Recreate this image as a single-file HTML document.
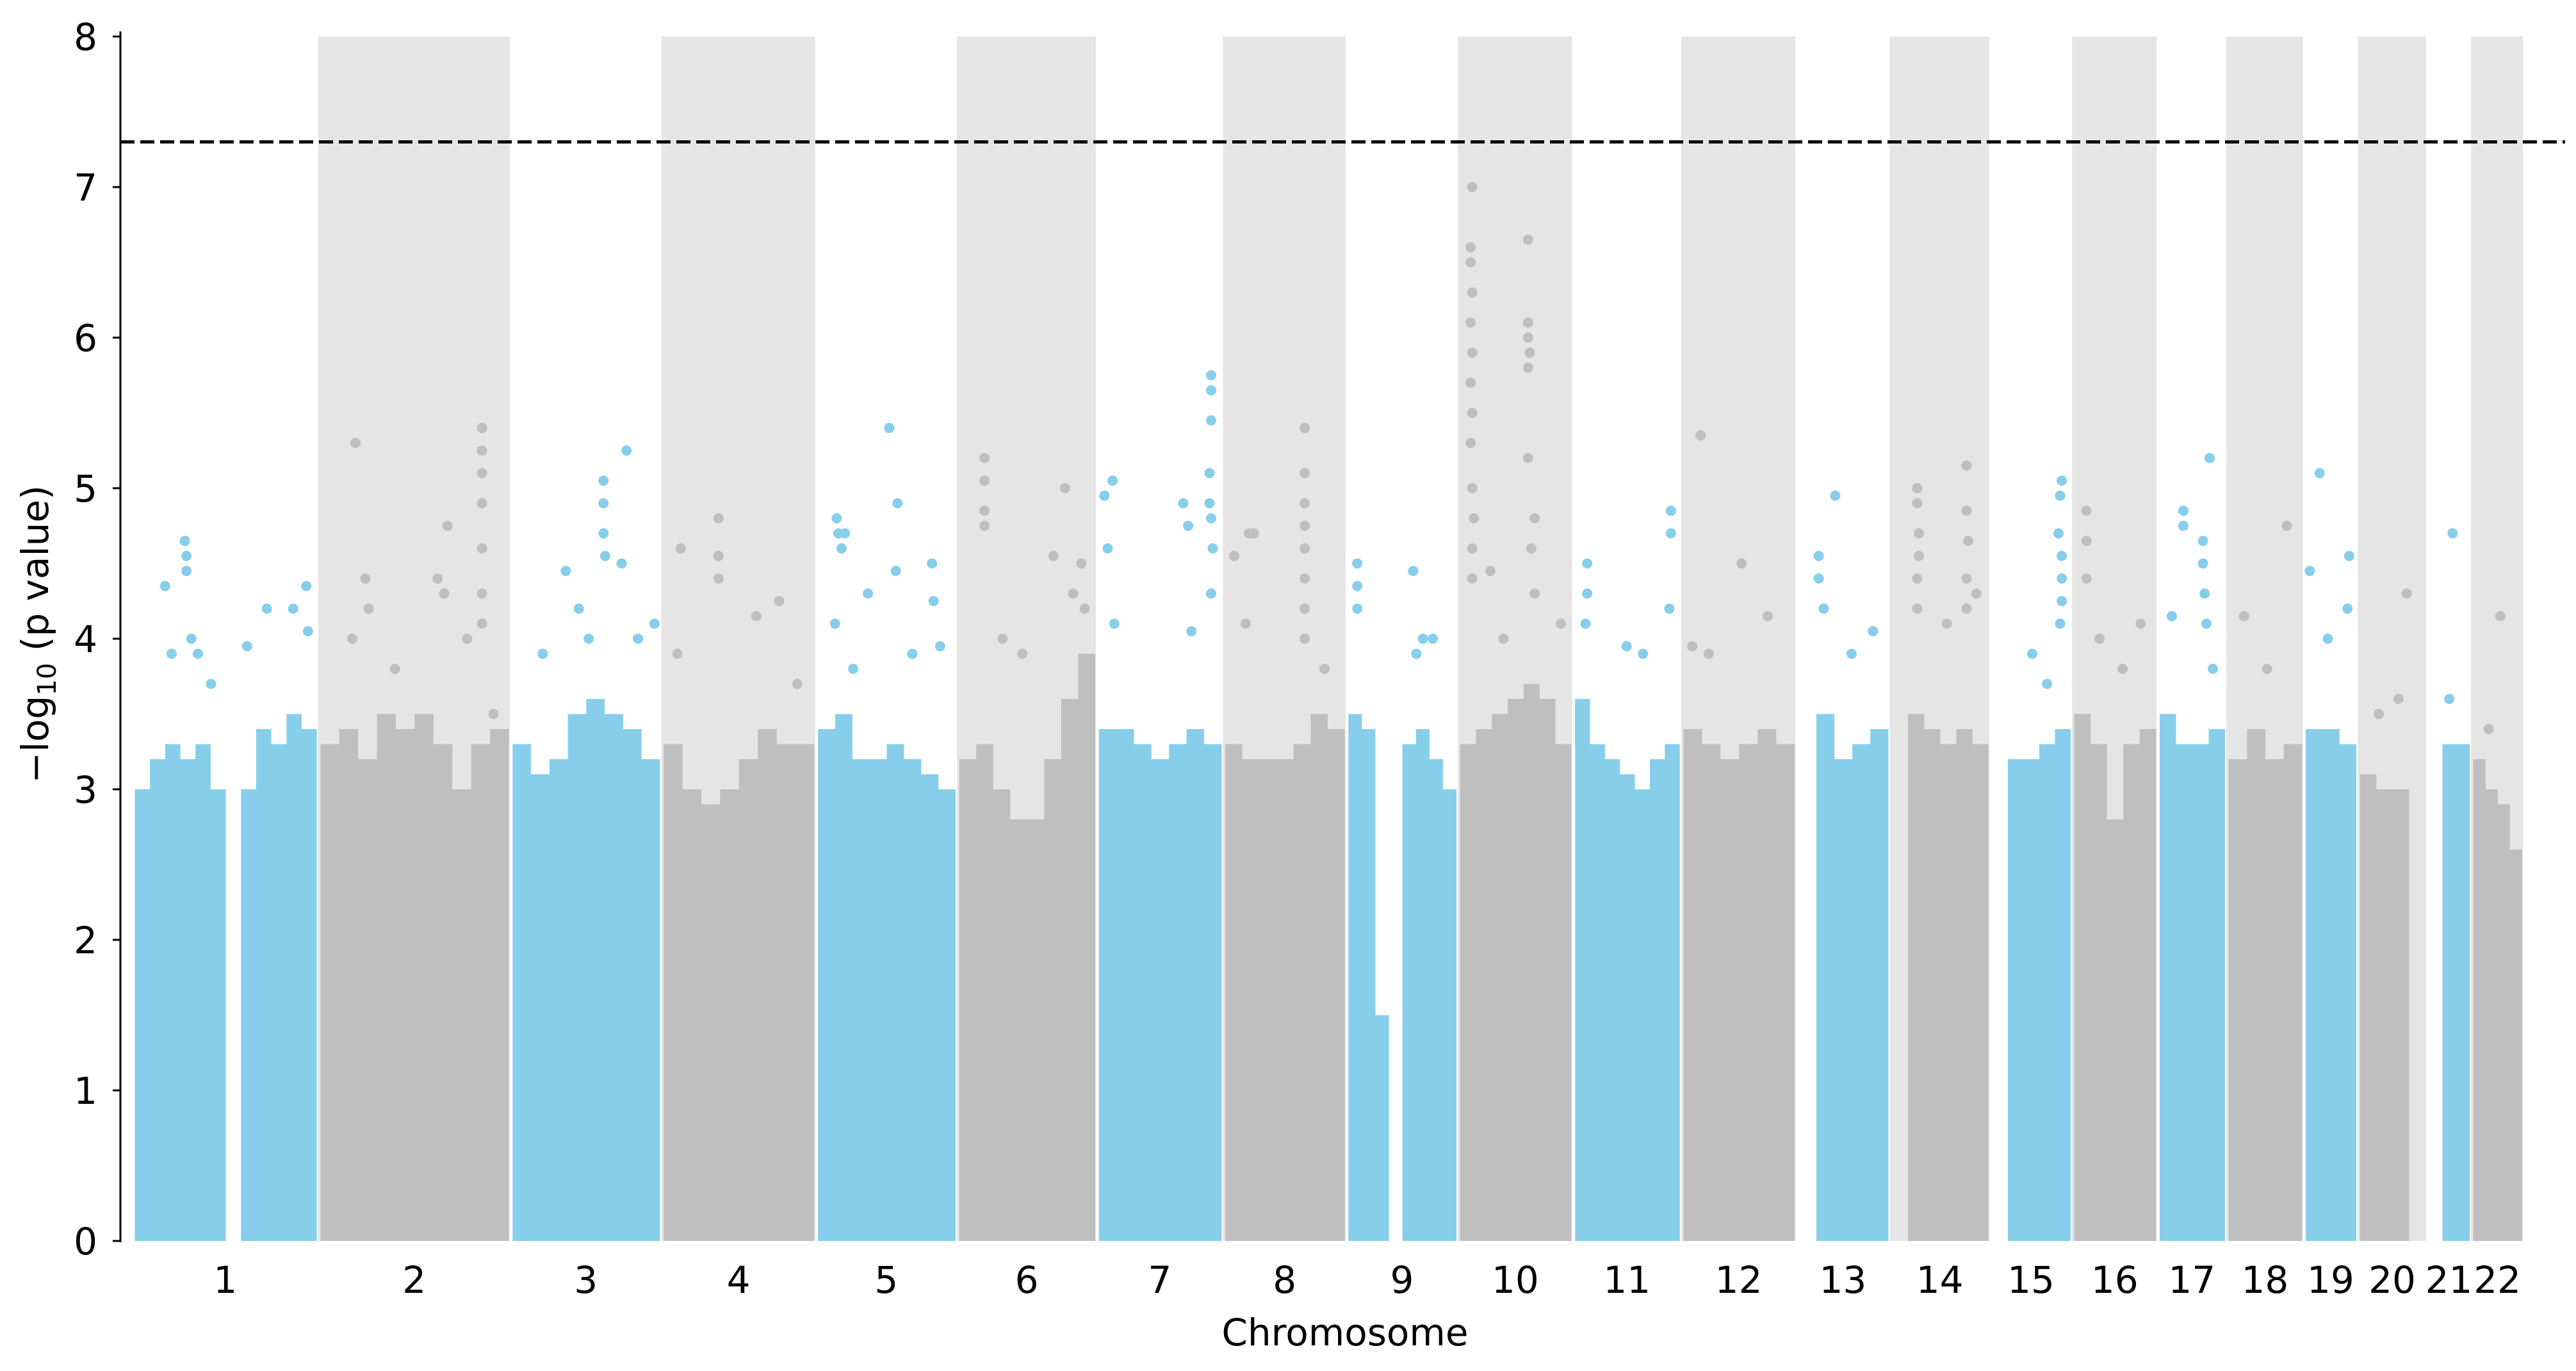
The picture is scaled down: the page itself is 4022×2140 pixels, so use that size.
<!DOCTYPE html>
<html><head><meta charset="utf-8">
<style>
html,body{margin:0;padding:0;background:#fff;}
svg{display:block;font-family:"DejaVu Sans","Liberation Sans",sans-serif;}
</style></head>
<body>
<svg id="chart" width="4022" height="2140" viewBox="0 0 4022 2140" xmlns="http://www.w3.org/2000/svg">
<g id="bands"></g>
<g id="marks"></g>
<g id="axes"></g>
</svg>
<script>
const chromosomes = ["1","2","3","4","5","6","7","8","9","10","11","12","13","14","15","16","17","18","19","20","21","22"];
const chrLen = [113,117,92,94,86,85,77,75,68,70,66,70,57,61,50,52,42,47,33,42,27,32];
const envelope = [
 [3.0,3.2,3.3,3.2,3.3,3.0,0,3.0,3.4,3.3,3.5,3.4],
 [3.3,3.4,3.2,3.5,3.4,3.5,3.3,3.0,3.3,3.4],
 [3.3,3.1,3.2,3.5,3.6,3.5,3.4,3.2],
 [3.3,3.0,2.9,3.0,3.2,3.4,3.3,3.3],
 [3.4,3.5,3.2,3.2,3.3,3.2,3.1,3.0],
 [3.2,3.3,3.0,2.8,2.8,3.2,3.6,3.9],
 [3.4,3.4,3.3,3.2,3.3,3.4,3.3],
 [3.3,3.2,3.2,3.2,3.3,3.5,3.4],
 [3.5,3.4,1.5,0,3.3,3.4,3.2,3.0],
 [3.3,3.4,3.5,3.6,3.7,3.6,3.3],
 [3.6,3.3,3.2,3.1,3.0,3.2,3.3],
 [3.4,3.3,3.2,3.3,3.4,3.3],
 [0,3.5,3.2,3.3,3.4],
 [0,3.5,3.4,3.3,3.4,3.3],
 [0,3.2,3.2,3.3,3.4],
 [3.5,3.3,2.8,3.3,3.4],
 [3.5,3.3,3.3,3.4],
 [3.2,3.4,3.2,3.3],
 [3.4,3.4,3.3],
 [3.1,3.0,3.0,0],
 [0,3.3,3.3],
 [3.2,3.0,2.9,2.6]
];
// [chromosome index, position within chromosome, -log10 p]
const peaks = [
 [0,19,4.35],[0,31,4.65],[0,32,4.55],[0,32,4.45],[0,35,4.0],[0,39,3.9],[0,47,3.7],[0,69,3.95],[0,81,4.2],[0,97,4.2],[0,105,4.35],[0,106,4.05],[0,23,3.9],
 [1,22,5.3],[1,28,4.4],[1,30,4.2],[1,20,4.0],[1,72,4.4],[1,78,4.75],[1,76,4.3],[1,90,4.0],[1,99,5.4],[1,99,5.25],[1,99,5.1],[1,99,4.9],[1,99,4.6],[1,99,4.3],[1,99,4.1],[1,46,3.8],[1,106,3.5],
 [2,33,4.45],[2,41,4.2],[2,56,5.05],[2,56,4.9],[2,56,4.7],[2,57,4.55],[2,70,5.25],[2,67,4.5],[2,77,4.0],[2,87,4.1],[2,47,4.0],[2,19,3.9],
 [3,11,4.6],[3,34,4.8],[3,34,4.55],[3,34,4.4],[3,57,4.15],[3,71,4.25],[3,9,3.9],[3,82,3.7],
 [4,12,4.8],[4,13,4.7],[4,15,4.6],[4,17,4.7],[4,44,5.4],[4,49,4.9],[4,48,4.45],[4,70,4.5],[4,71,4.25],[4,11,4.1],[4,31,4.3],[4,75,3.95],[4,58,3.9],[4,22,3.8],
 [5,16,5.2],[5,16,5.05],[5,16,4.85],[5,16,4.75],[5,65,5.0],[5,58,4.55],[5,75,4.5],[5,70,4.3],[5,27,4.0],[5,77,4.2],[5,39,3.9],
 [6,4,4.95],[6,9,5.05],[6,6,4.6],[6,52,4.9],[6,55,4.75],[6,69,5.75],[6,69,5.65],[6,69,5.45],[6,68,5.1],[6,68,4.9],[6,69,4.8],[6,70,4.6],[6,69,4.3],[6,57,4.05],[6,10,4.1],
 [7,6,4.55],[7,15,4.7],[7,18,4.7],[7,49,5.4],[7,49,5.1],[7,49,4.9],[7,49,4.75],[7,49,4.6],[7,49,4.4],[7,49,4.2],[7,49,4.0],[7,61,3.8],[7,13,4.1],
 [8,6,4.5],[8,6,4.35],[8,6,4.2],[8,40,4.45],[8,46,4.0],[8,52,4.0],[8,42,3.9],
 [9,8,7.0],[9,7,6.6],[9,7,6.5],[9,8,6.3],[9,7,6.1],[9,8,5.9],[9,7,5.7],[9,8,5.5],[9,7,5.3],[9,8,5.0],[9,9,4.8],[9,8,4.6],[9,8,4.4],[9,42,6.65],[9,42,6.1],[9,42,6.0],[9,43,5.9],[9,42,5.8],[9,42,5.2],[9,46,4.8],[9,44,4.6],[9,19,4.45],[9,46,4.3],[9,62,4.1],[9,27,4.0],
 [10,8,4.5],[10,8,4.3],[10,7,4.1],[10,59,4.85],[10,59,4.7],[10,58,4.2],[10,32,3.95],[10,42,3.9],
 [11,11,5.35],[11,6,3.95],[11,36,4.5],[11,52,4.15],[11,16,3.9],
 [12,13,4.55],[12,13,4.4],[12,23,4.95],[12,16,4.2],[12,46,4.05],[12,33,3.9],
 [13,16,5.0],[13,16,4.9],[13,17,4.7],[13,17,4.55],[13,16,4.4],[13,16,4.2],[13,46,5.15],[13,46,4.85],[13,47,4.65],[13,46,4.4],[13,46,4.2],[13,52,4.3],[13,34,4.1],
 [14,43,5.05],[14,42,4.95],[14,41,4.7],[14,43,4.55],[14,43,4.4],[14,43,4.25],[14,42,4.1],[14,25,3.9],[14,34,3.7],
 [15,8,4.85],[15,8,4.65],[15,8,4.4],[15,16,4.0],[15,41,4.1],[15,30,3.8],
 [16,15,4.85],[16,15,4.75],[16,27,4.65],[16,27,4.5],[16,28,4.3],[16,31,5.2],[16,8,4.15],[16,29,4.1],[16,33,3.8],
 [17,10,4.15],[17,36,4.75],[17,24,3.8],
 [18,3,4.45],[18,9,5.1],[18,14,4.0],[18,27,4.55],[18,26,4.2],
 [19,29,4.3],[19,12,3.5],[19,24,3.6],
 [20,15,4.7],[20,13,3.6],
 [21,17,4.15],[21,10,3.4]
];
const yTicks = [0,1,2,3,4,5,6,7,8];
const threshold = 7.3;

const NS="http://www.w3.org/2000/svg";
const X0=188, XR=4005, Y0=1937, Y8=57;
const yScale = v => Y0 - (v/8)*(Y0-Y8);
const xScale = u => 209 + u*2.564;
const starts=[]; let acc=0;
for(const l of chrLen){starts.push(acc); acc+=l;}
function mk(tag,attrs,parent){const e=document.createElementNS(NS,tag);for(const k in attrs)e.setAttribute(k,attrs[k]);parent.appendChild(e);return e;}
const bands=document.getElementById('bands'), marks=document.getElementById('marks'), axes=document.getElementById('axes');
const colors=["#87ceeb","#bfbfbf"];

chromosomes.forEach((c,i)=>{
  const s=starts[i], l=chrLen[i];
  if(i%2===1){
    const r=mk('rect',{x:xScale(s)-2,y:Y8,width:(xScale(s+l)-xScale(s))-1,height:Y0-Y8,fill:"#e5e5e5"},bands);
    
    
  }
  const env=envelope[i], n=env.length;
  let d="";
  const x1=xScale(s+0.6), x2=xScale(s+l-1.6);
  for(let k=0;k<n;k++){
    const xa=x1+(x2-x1)*k/n, xb=x1+(x2-x1)*(k+1)/n;
    const yv=yScale(env[k]);
    d+=`M${xa.toFixed(1)},${Y0} L${xa.toFixed(1)},${yv.toFixed(1)} L${xb.toFixed(1)},${yv.toFixed(1)} L${xb.toFixed(1)},${Y0} Z `;
  }
  const p=mk('path',{d:d,fill:colors[i%2]},marks);
  
  
  const t=mk('text',{x:xScale(s+l/2)-2,y:2018,"font-size":58,"text-anchor":"middle",fill:"#000"},axes);
  t.textContent=c;
  
  
});
peaks.forEach(pk=>{
  const [ci,pos,v]=pk;
  const e=mk('circle',{cx:xScale(starts[ci]+pos),cy:yScale(v),r:8,fill:colors[ci%2]},marks);
  
  
});
const th=mk('line',{x1:X0,x2:XR,y1:yScale(threshold),y2:yScale(threshold),stroke:"#000","stroke-width":5,"stroke-dasharray":"22,9"},axes);


const sp=mk('line',{x1:X0,x2:X0,y1:Y8-8,y2:Y0+2,stroke:"#000","stroke-width":3},axes);


yTicks.forEach(v=>{
  const tk=mk('line',{x1:X0-12,x2:X0,y1:yScale(v),y2:yScale(v),stroke:"#000","stroke-width":3},axes);
  
  
  const tl=mk('text',{x:152,y:yScale(v)+21,"font-size":58,"text-anchor":"end",fill:"#000"},axes);
  tl.textContent=String(v);
  
  
});
</script>
<svg style="position:absolute;left:0;top:0" width="4022" height="2140">
<text x="2100" y="2100" font-size="58" text-anchor="middle" font-family="DejaVu Sans, Liberation Sans, sans-serif">Chromosome</text>
<text transform="translate(75,990) rotate(-90)" font-size="58" text-anchor="middle" font-family="DejaVu Sans, Liberation Sans, sans-serif">−log<tspan font-size="40" dy="12">10</tspan><tspan dy="-12"> (p value)</tspan></text>
</svg>
</body></html>
